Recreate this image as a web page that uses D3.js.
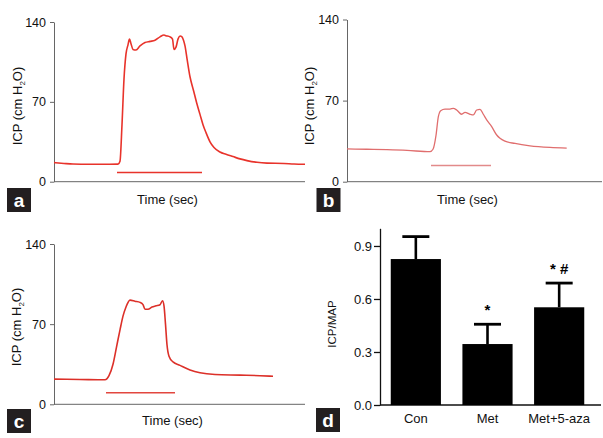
<!DOCTYPE html>
<html><head><meta charset="utf-8">
<script src="https://cdn.jsdelivr.net/npm/d3@7"></script>
<style>
body{margin:0;background:#fff;}
svg{display:block;font-family:Arial,"Liberation Sans",sans-serif;}
</style></head>
<body>
<svg id="c" width="603" height="438"></svg>
<script>
// ---------- DATA ----------
const icpTicks = [0, 70, 140];
// Trace a (time sec, ICP cm H2O)
const timeA = [0,10,19,35,50,64,66,68,70,72,74,75.5,77,79,82,86,91,96,101,106,110,112,116,118.5,120,122,124,126,128,129.5,131,133,136,139.5,142.7,146,149,152,156,160,166,172,179,186,193,203,213,230,240,251];
const icpA  = [16.7,16,15.5,15.3,15.3,15.4,18,50,90,112,120,125,121,116,115.5,119,122,123,124,127,128.6,128,127,125,116,118,125,127.7,127,124,119,108,92,80,69,59,50,43,35,30,26,24,22,20,18.5,17,16.3,16,15.5,15.3];
const stimA = [63, 148], stimAVal = 8;

// Trace b
const timeB = [0,20,40,60,83,86,89,91.3,93.7,98,103,106.3,109.7,114.7,118,123,126.3,129.7,133,136.3,139.7,144.7,149.7,153,158,168,183,203,219.7];
const icpB  = [28.3,28,27.6,27,25.9,28,40,56,61.3,62.7,62.7,63.3,61.9,58.2,59.9,58.2,57.6,61.9,62.5,58.2,53.3,47.5,40.3,37.5,35,33,31,29.6,29];
const stimB = [84, 144], stimBVal = 14;

// Trace c
const timeC = [0,26,51,55,59,62.5,66,69,72,76,81,86,89,91,94,98,102,106,108.5,110,111.5,113,115,119,126,136,146,161,186,206,219];
const icpC  = [22,21.7,21.4,25,35,50,65,77,85,91,90,89,87,83,83,85,86,87,90.5,86,70,52,42,37,34,30,27.5,26,25.5,25,24.5];
const stimC = [52, 121], stimCVal = 10;

// Panel d
const groups = ["Con", "Met", "Met+5-aza"];
const ratio  = [0.826, 0.345, 0.553];
const sem    = [0.127, 0.112, 0.137];
const marks  = ["", "*", "* #"];
const ratioTicks = [0, 0.3, 0.6, 0.9];

// ---------- DRAW ----------
const svg = d3.select("#c");

function tracePanel(o){
  const g = svg.append("g");
  const x = d3.scaleLinear().domain([0, o.tMax]).range([o.x0, o.x1]);
  const y = d3.scaleLinear().domain([0, 140]).range([o.yb, o.yt]);
  const ya = g.append("g").attr("transform", `translate(${o.x0},0)`)
    .call(d3.axisLeft(y).tickValues(icpTicks).tickSize(4).tickPadding(4).tickSizeOuter(0));
  ya.select(".domain").attr("stroke", "#666");
  ya.selectAll(".tick line").attr("stroke", "#666");
  ya.selectAll(".tick text").attr("font-size", 12.5).attr("fill", "#111").attr("font-family", "Arial, Liberation Sans, sans-serif");
  g.append("line").attr("x1", o.x0).attr("x2", o.x1).attr("y1", y(0)).attr("y2", y(0))
    .attr("stroke", "#666").attr("stroke-width", 1);
  const line = d3.line().x((d,i)=>x(o.t[i])).y(d=>y(d)).curve(d3.curveMonotoneX);
  g.append("path").datum(o.v).attr("d", line).attr("fill", "none")
    .attr("stroke", o.color).attr("stroke-width", o.sw).attr("stroke-linejoin", "round");
  g.append("line").attr("x1", x(o.stim[0])).attr("x2", x(o.stim[1]))
    .attr("y1", y(o.stimVal)).attr("y2", y(o.stimVal))
    .attr("stroke", o.stimColor).attr("stroke-width", 1.5);
  const yl = g.append("text").attr("transform", `translate(${o.ylx},${o.yly}) rotate(-90)`)
    .attr("text-anchor", "middle").attr("font-size", 13).attr("fill", "#111");
  yl.append("tspan").text("ICP (cm H");
  yl.append("tspan").text("2").attr("font-size", 8).attr("dy", 3);
  yl.append("tspan").text("O)").attr("dy", -3);
  g.append("text").attr("x", o.tx).attr("y", o.ty).attr("text-anchor", "middle")
    .attr("font-size", 13).attr("fill", "#111").text("Time (sec)");
  panelLetter(o.lx, o.ly, o.letter);
}

function panelLetter(x, y, l){
  svg.append("rect").attr("x", x).attr("y", y).attr("width", 24).attr("height", 24).attr("fill", "#231f20");
  svg.append("text").attr("x", x + 12).attr("y", y + 18.5).attr("text-anchor", "middle")
    .attr("font-size", 19).attr("font-weight", "bold").attr("fill", "#fff").text(l);
}

tracePanel({x0:54, x1:305, yt:22, yb:181.7, tMax:251, t:timeA, v:icpA, color:"#e8332b", sw:1.6,
  stim:stimA, stimVal:stimAVal, stimColor:"#e8332b", ylx:22, yly:106, tx:167.5, ty:204, lx:7, ly:188, letter:"a"});
tracePanel({x0:347, x1:602, yt:19.5, yb:181.7, tMax:255, t:timeB, v:icpB, color:"#e06e6e", sw:1.3,
  stim:stimB, stimVal:stimBVal, stimColor:"#e28a8a", ylx:314, yly:106, tx:467.5, ty:204, lx:316.5, ly:188, letter:"b"});
tracePanel({x0:54, x1:305, yt:244, yb:404.3, tMax:251, t:timeC, v:icpC, color:"#dc3029", sw:1.6,
  stim:stimC, stimVal:stimCVal, stimColor:"#e2473f", ylx:21, yly:327, tx:172.5, ty:425, lx:7, ly:409, letter:"c"});

// Panel d
(function(){
  const g = svg.append("g");
  const x = d3.scaleBand().domain(groups).range([380, 595]).paddingInner(0.3).paddingOuter(0.15);
  const y = d3.scaleLinear().domain([0, 1]).range([405, 228.3]);
  const ya = g.append("g").attr("transform", "translate(380,0)")
    .call(d3.axisLeft(y).tickValues(ratioTicks).tickFormat(d3.format(".1f")).tickSize(6).tickPadding(2).tickSizeOuter(0));
  ya.select(".domain").attr("stroke", "#111").attr("stroke-width", 1.3);
  ya.selectAll(".tick line").attr("stroke", "#111").attr("stroke-width", 1.3);
  ya.selectAll(".tick text").attr("font-size", 13).attr("fill", "#111").attr("font-family", "Arial, Liberation Sans, sans-serif");
  g.append("line").attr("x1", 380).attr("x2", 601).attr("y1", y(0)).attr("y2", y(0)).attr("stroke", "#111").attr("stroke-width", 1.3);
  groups.forEach((k,i)=>{
    const cx = x(k) + x.bandwidth()/2;
    g.append("line").attr("x1", cx).attr("x2", cx).attr("y1", y(ratio[i])).attr("y2", y(ratio[i] + sem[i]))
      .attr("stroke", "#000").attr("stroke-width", 2.6);
    g.append("line").attr("x1", cx - 13.5).attr("x2", cx + 13.5).attr("y1", y(ratio[i] + sem[i])).attr("y2", y(ratio[i] + sem[i]))
      .attr("stroke", "#000").attr("stroke-width", 2.8);
    g.append("text").attr("x", cx).attr("y", y(ratio[i] + sem[i]) - 9).attr("text-anchor", "middle")
      .attr("font-size", 15).attr("font-weight", "bold").attr("fill", "#000").text(marks[i]);
  });
  g.selectAll("rect.bar").data(groups).join("rect").attr("class", "bar")
    .attr("x", d=>x(d)).attr("width", x.bandwidth())
    .attr("y", (d,i)=>y(ratio[i])).attr("height", (d,i)=>y(0) - y(ratio[i]))
    .attr("fill", "#000");
  groups.forEach(k=>{
    g.append("text").attr("x", x(k) + x.bandwidth()/2).attr("y", 423).attr("text-anchor", "middle")
      .attr("font-size", 13).attr("fill", "#111").text(k);
  });
  g.append("text").attr("transform", "translate(336,324) rotate(-90)").attr("text-anchor", "middle")
    .attr("font-size", 11.5).attr("fill", "#111").text("ICP/MAP");
  panelLetter(316, 408, "d");
})();
</script>
</body></html>
